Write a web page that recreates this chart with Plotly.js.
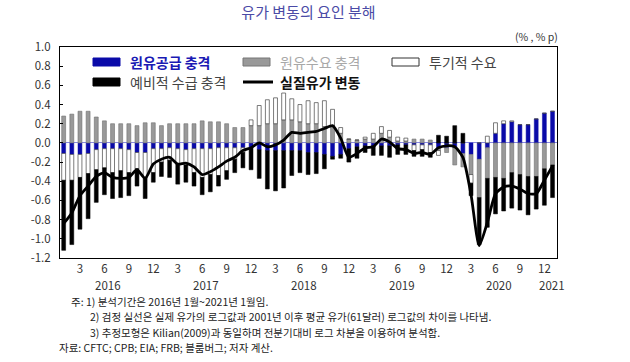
<!DOCTYPE html>
<html>
<head>
<meta charset="utf-8">
<script src="https://cdn.plot.ly/plotly-3.0.1.min.js"></script>
<style>
html,body{margin:0;padding:0;background:#fff;}
#chart{width:630px;height:362px;}
</style>
</head>
<body>
<div id="chart"></div>
<script>
// ---- data (monthly, 2016.1 ~ 2021.1) ----
const months = Array.from({length: 61}, (_, i) => i); // index 0 = 2016.1
const monthTickVals = [2,5,8,11,14,17,20,23,26,29,32,35,38,41,44,47,50,53,56,59];
const monthTickText = ['3','6','9','12','3','6','9','12','3','6','9','12','3','6','9','12','3','6','9','12'];
const yearLabels = ['2016','2017','2018','2019','2020','2021'];
const yearPos = [5.5, 17.5, 29.5, 41.5, 53.4, 59.9];
const yTickVals = [1.0,0.8,0.6,0.4,0.2,0.0,-0.2,-0.4,-0.6,-0.8,-1.0,-1.2];
const yTickText = ['1.0','0.8','0.6','0.4','0.2','0.0','-0.2','-0.4','-0.6','-0.8','-1.0','-1.2'];
const seriesNames = ['원유공급 충격','원유수요 충격','투기적 수요','예비적 수급 충격','실질유가 변동'];

const supplyShock = [
 -0.11,-0.12,-0.12,-0.11,-0.07,-0.06,-0.06,-0.06,-0.07,-0.10,-0.10,-0.06,
 -0.06,-0.05,-0.06,-0.07,-0.06,-0.06,-0.06,-0.05,-0.05,-0.05,-0.05,-0.05,
 -0.07,-0.08,-0.08,-0.08,-0.08,-0.08,-0.10,-0.10,-0.12,-0.14,-0.12,-0.06,
 -0.04,-0.03,-0.03,-0.03,-0.03,-0.02,-0.02,-0.02,-0.02,-0.02,-0.05,-0.05,
 -0.05,-0.11,-0.12,-0.17,-0.05,0.10,0.20,0.22,0.19,0.19,0.25,0.31,0.33];
const demandShock = [
 0.28,0.30,0.33,0.33,0.27,0.23,0.20,0.20,0.20,0.18,0.21,0.21,
 0.18,0.20,0.20,0.20,0.20,0.23,0.22,0.22,0.20,0.16,0.16,0.18,
 0.18,0.20,0.20,0.24,0.24,0.22,0.20,0.20,0.17,0.17,0.10,0.04,
 0.03,0.04,0.04,0.10,0.06,0.02,0.02,0.04,0.04,0.03,-0.03,-0.05,
 -0.18,-0.14,-0.21,-0.40,-0.32,-0.36,-0.37,-0.31,-0.33,-0.35,-0.35,-0.27,-0.23];
const speculative = [
 -0.28,-0.27,-0.24,-0.21,-0.21,-0.20,-0.25,-0.23,-0.24,-0.17,-0.26,-0.25,
 -0.14,-0.13,-0.16,-0.16,-0.25,-0.30,-0.27,-0.29,-0.24,-0.12,-0.05,0.06,
 0.21,0.25,0.27,0.28,0.22,0.18,0.24,0.22,0.27,0.18,0.06,0.00,
 0.00,0.02,0.06,0.07,0.07,0.04,0.03,-0.06,-0.05,-0.08,-0.05,0.00,
 0.00,0.00,-0.09,0.00,0.07,0.11,0.03,0.01,0.00,0.00,0.00,0.00,0.00];
const precautionary = [
 -0.73,-0.67,-0.54,-0.47,-0.34,-0.28,-0.27,-0.28,-0.24,-0.18,-0.22,-0.10,
 -0.15,-0.18,-0.21,-0.18,-0.14,-0.18,-0.18,-0.11,-0.09,-0.14,-0.16,-0.23,
 -0.30,-0.40,-0.42,-0.39,-0.26,-0.23,-0.23,-0.22,-0.15,-0.03,-0.04,-0.14,
 -0.12,-0.07,-0.10,-0.10,-0.12,-0.10,-0.10,-0.06,-0.07,-0.05,0.08,0.07,
 0.18,0.10,-0.13,-0.49,-0.51,-0.38,-0.34,-0.37,-0.37,-0.40,-0.34,-0.38,-0.34];
const realOil = [
 -0.84,-0.73,-0.55,-0.45,-0.35,-0.31,-0.36,-0.37,-0.36,-0.28,-0.37,-0.22,
 -0.17,-0.15,-0.22,-0.21,-0.25,-0.33,-0.30,-0.25,-0.19,-0.15,-0.08,-0.05,
 0.00,-0.04,-0.02,0.03,0.11,0.10,0.11,0.12,0.15,0.18,0.05,-0.15,
 -0.11,-0.05,-0.04,0.04,0.01,-0.06,-0.07,-0.11,-0.10,-0.12,-0.05,-0.03,
 -0.04,-0.15,-0.54,-1.07,-0.83,-0.53,-0.46,-0.45,-0.48,-0.53,-0.53,-0.39,-0.24];

// ---- layout helpers ----
const W = 630, H = 362;
const M = {l: 60, r: 73, t: 47, b: 104};
const PW = W - M.l - M.r, PH = H - M.t - M.b;
const px = x => (x - M.l) / PW;
const py = y => (H - M.b - y) / PH;
const KR = 'Noto Sans CJK KR';

const barW = 0.48;
const traces = [
  {type:'bar', x:months, y:supplyShock, name:seriesNames[0], width:barW,
   marker:{color:'#0a0aa8', line:{color:'#0a0aa8', width:0.5}}},
  {type:'bar', x:months, y:demandShock, name:seriesNames[1], width:barW,
   marker:{color:'#999999', line:{color:'#6e6e6e', width:0.6}}},
  {type:'bar', x:months, y:speculative, name:seriesNames[2], width:barW,
   marker:{color:'#ffffff', line:{color:'#444444', width:0.7}}},
  {type:'bar', x:months, y:precautionary, name:seriesNames[3], width:barW,
   marker:{color:'#000000', line:{color:'#000000', width:0.5}}},
  {type:'scatter', mode:'lines', x:months, y:realOil, name:seriesNames[4],
   line:{color:'#000000', width:2.8, shape:'spline', smoothing:0.6}}
];

// manual legend
const legendItems = [
  {row:0, col:0, kind:'rect', fill:'#0a0aa8', stroke:'#0a0aa8', color:'#1a1ab4', bold:true},
  {row:0, col:1, kind:'rect', fill:'#999999', stroke:'#777777', color:'#a8a8a8', bold:false},
  {row:0, col:2, kind:'rect', fill:'#ffffff', stroke:'#333333', color:'#444444', bold:false},
  {row:1, col:0, kind:'rect', fill:'#000000', stroke:'#000000', color:'#444444', bold:false},
  {row:1, col:1, kind:'line', fill:'#000000', stroke:'#000000', color:'#111111', bold:true}
];
const colX = [93, 243, 392];
const rowY = [62, 82];
const shapes = [];
const annotations = [];
legendItems.forEach((it, k) => {
  const x0 = colX[it.col], yc = rowY[it.row];
  if (it.kind === 'rect') {
    shapes.push({type:'rect', xref:'paper', yref:'paper',
      x0:px(x0), x1:px(x0+27), y0:py(yc+4), y1:py(yc-4),
      fillcolor:it.fill, line:{color:it.stroke, width:1}});
  } else {
    shapes.push({type:'line', xref:'paper', yref:'paper',
      x0:px(x0), x1:px(x0+30), y0:py(yc), y1:py(yc),
      line:{color:it.stroke, width:3}});
  }
  annotations.push({xref:'paper', yref:'paper', x:px(x0+35), y:py(yc),
    xanchor:'left', yanchor:'middle', showarrow:false,
    text: it.bold ? '<b>'+seriesNames[k]+'</b>' : seriesNames[k],
    font:{family:KR, size:14, color:it.color}});
});

// year labels
yearLabels.forEach((t, k) => {
  annotations.push({xref:'x', yref:'paper', x:yearPos[k], y:py(285),
    xanchor:'center', yanchor:'middle', showarrow:false, text:t,
    font:{family:KR, size:11.5, color:'#333'}});
});

// unit
annotations.push({xref:'paper', yref:'paper', x:px(560), y:py(37),
  xanchor:'right', yanchor:'middle', showarrow:false, text:'(% , % p)',
  font:{family:KR, size:10.5, color:'#333'}});

// footnotes
const notes = [
  {x:70, y:301, t:'주: 1) 분석기간은 2016년 1월~2021년 1월임.'},
  {x:89, y:316.5, t:'2) 검정 실선은 실제 유가의 로그값과 2001년 이후 평균 유가(61달러) 로그값의 차이를 나타냄.'},
  {x:89, y:332, t:'3) 추정모형은 Kilian(2009)과 동일하며 전분기대비 로그 차분을 이용하여 분석함.'},
  {x:58, y:347.5, t:'자료: CFTC; CPB; EIA; FRB; 블룸버그; 저자 계산.'}
];
notes.forEach(n => annotations.push({xref:'paper', yref:'paper', x:px(n.x), y:py(n.y),
  xanchor:'left', yanchor:'middle', showarrow:false, text:n.t, borderpad:0,
  font:{family:KR, size:10.5, color:'#222'}}));

const layout = {
  width: W, height: H,
  margin: M,
  paper_bgcolor:'#fff', plot_bgcolor:'#fff',
  barmode:'relative', bargap:0,
  showlegend:false,
  title:{text:'유가 변동의 요인 분해', x:0.5, xref:'paper', xanchor:'center', y:1-13/H, yanchor:'middle',
    font:{family:KR, size:15, color:'#4a4aa6'}},
  xaxis:{range:[-0.45, 60.55], tickvals:monthTickVals, ticktext:monthTickText, ticks:'',
    showgrid:false, zeroline:false, showline:true, mirror:true, linecolor:'#000', linewidth:1,
    tickfont:{family:KR, size:11.5, color:'#333'}, fixedrange:true},
  yaxis:{range:[-1.2, 1.0], tickvals:yTickVals, ticktext:yTickText, ticks:'inside', ticklen:3,
    tickcolor:'#000', showgrid:false, zeroline:true, zerolinecolor:'#8a8ae0', zerolinewidth:1,
    showline:true, mirror:true, linecolor:'#000', linewidth:1, ticklabelstandoff:6,
    tickfont:{family:KR, size:11.5, color:'#333'}, fixedrange:true},
  shapes: shapes,
  annotations: annotations
};

Plotly.newPlot('chart', traces, layout, {staticPlot:true, displayModeBar:false});
</script>
</body>
</html>
